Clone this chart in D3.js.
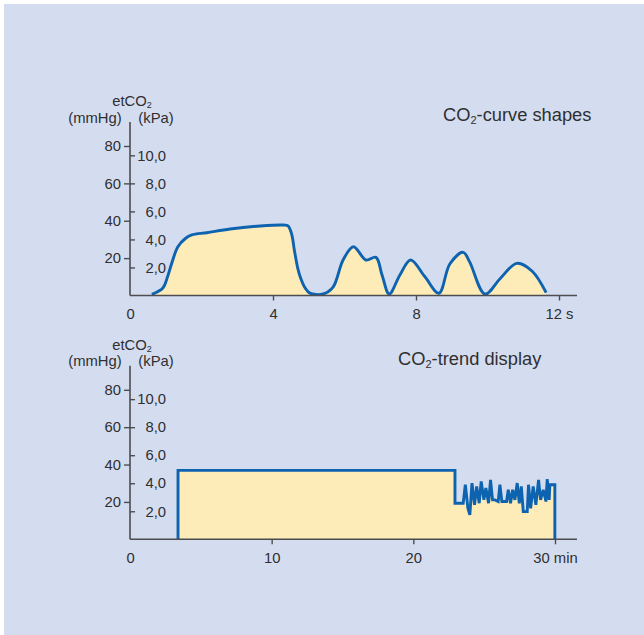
<!DOCTYPE html>
<html><head><meta charset="utf-8">
<script src="https://cdn.jsdelivr.net/npm/d3@7"></script>
<style>
html,body{margin:0;padding:0;background:#fff;}
svg{display:block;font-family:"Liberation Sans",Arial,Helvetica,sans-serif;}
</style></head>
<body>
<svg id="c" width="644" height="635"></svg>
<script>
// ---------- data ----------
const mmHgTicks = [20, 40, 60, 80];
const kPaTicks = [2, 4, 6, 8, 10];
const kPaLabels = ["2,0", "4,0", "6,0", "8,0", "10,0"];
const curveTimeTicks = [0, 4, 8, 12];
const curveTimeLabels = ["0", "4", "8", "12 s"];
const trendTimeTicks = [0, 10, 20, 30];
const trendTimeLabels = ["0", "10", "20", "30 min"];

// CO2 curve shapes: time (s), etCO2 (mmHg)
const curveTime = [0.61, 0.92, 1.05, 1.17, 1.34, 1.55, 1.73, 2.15, 2.8, 3.64, 4.3, 4.42, 4.52, 4.6, 4.7, 4.78, 4.9, 5.03, 5.4, 5.68, 5.96, 6.25, 6.6, 6.88, 7.05, 7.25, 7.55, 7.85, 8.25, 8.64, 8.95, 9.32, 9.5, 9.93, 10.35, 10.82, 11.25, 11.64];
const curveValue = [0.6, 4.0, 10, 17.4, 26.1, 30.5, 32.4, 33.6, 35.6, 37.2, 37.7, 37.3, 33, 24, 14, 9, 4, 1.3, 0.8, 4.5, 19, 26.1, 19, 20.4, 11, 0.8, 11, 19, 10, 1.2, 17, 23.1, 18, 0.8, 9, 17.2, 13, 1.5];

// CO2 trend display: time (min), etCO2 (mmHg)
const trendTime = [3.39, 3.39, 22.94, 22.94, 23.52, 23.67, 23.85, 23.99, 24.14, 24.32, 24.47, 24.65, 24.79, 24.98, 25.12, 25.31, 25.45, 25.59, 25.76, 25.99, 26.11, 26.25, 26.58, 26.70, 26.86, 27.01, 27.17, 27.33, 27.48, 27.62, 27.76, 28.04, 28.13, 28.28, 28.46, 28.65, 28.84, 28.98, 29.17, 29.36, 29.45, 29.59, 29.64, 29.99, 29.99];
const trendValue = [0, 36.9, 36.9, 19.3, 19.3, 29.2, 16.6, 13.1, 30.1, 18.4, 28.3, 19.3, 31.0, 21.1, 27.4, 19.3, 31.8, 21.1, 21.1, 20.2, 29.2, 20.2, 20.2, 26.5, 19.3, 26.5, 21.1, 30.1, 19.3, 28.3, 14.8, 14.8, 29.2, 16.6, 28.3, 18.4, 31.8, 21.1, 26.5, 20.2, 32.2, 21.1, 29.2, 29.2, 0];

// ---------- style ----------
const BG = "#d4ddef", FILL = "#fdebb8", LINE = "#0d63b0", AXIS = "#4d4d4f", TEXT = "#2f2f31";
const FS = "14.8px";

const svg = d3.select("#c");
svg.append("rect").attr("x", 4).attr("y", 4).attr("width", 640).attr("height", 631).attr("fill", BG);

function panel(opt) {
  const g = svg.append("g");
  const y = d3.scaleLinear().domain([0, 80]).range([opt.base, opt.base - 149.5]);
  const yk = d3.scaleLinear().domain([0, 80 / 7.5]).range([opt.base, opt.base - 149.5]);
  const x = d3.scaleLinear().domain(opt.xDomain).range([130, opt.xEnd]);

  // data marks
  const pts = opt.t.map((t, i) => [t, opt.v[i]]);
  const area = d3.area().x(d => x(d[0])).y0(y(0)).y1(d => y(d[1])).curve(opt.curve);
  const line = d3.line().x(d => x(d[0])).y(d => y(d[1])).curve(opt.curve);
  g.append("path").attr("d", area(pts)).attr("fill", FILL);
  g.append("path").attr("d", line(pts)).attr("fill", "none").attr("stroke", LINE)
    .attr("stroke-width", 2.9).attr("stroke-linejoin", opt.join).attr("stroke-linecap", "butt");

  // y axis line
  g.append("line").attr("x1", 130).attr("x2", 130).attr("y1", opt.base).attr("y2", opt.base - 173.5)
    .attr("stroke", AXIS).attr("stroke-width", 1.6);
  // mmHg ticks (left)
  const la = g.append("g").attr("transform", "translate(130,0)")
    .call(d3.axisLeft(y).tickValues(opt.mm).tickSize(6).tickPadding(3));
  la.select(".domain").remove();
  la.selectAll("line").attr("stroke", AXIS).attr("stroke-width", 1.4);
  la.selectAll("text").attr("fill", TEXT).style("font-size", FS).style("font-family", "Liberation Sans, Arial, sans-serif");
  // kPa ticks (right, labels right-aligned)
  const ra = g.append("g").attr("transform", "translate(130,0)")
    .call(d3.axisRight(yk).tickValues(opt.kp).tickSize(5).tickFormat((d, i) => opt.kpl[i]));
  ra.select(".domain").remove();
  ra.selectAll("line").attr("stroke", AXIS).attr("stroke-width", 1.4);
  ra.selectAll("text").attr("fill", TEXT).attr("x", 36).attr("text-anchor", "end")
    .style("font-size", FS).style("font-family", "Liberation Sans, Arial, sans-serif");

  // x axis
  g.append("line").attr("x1", 130).attr("x2", 577).attr("y1", opt.base).attr("y2", opt.base)
    .attr("stroke", AXIS).attr("stroke-width", 1.6);
  const ba = g.append("g").attr("transform", `translate(0,${opt.base})`)
    .call(d3.axisBottom(x).tickValues(opt.xt).tickSize(5).tickPadding(8).tickFormat((d, i) => opt.xl[i]));
  ba.select(".domain").remove();
  ba.selectAll("line").attr("stroke", AXIS).attr("stroke-width", 1.4)
    .attr("display", (d, i) => i === 0 ? "none" : null);
  ba.selectAll("text").attr("fill", TEXT).style("font-size", FS).style("font-family", "Liberation Sans, Arial, sans-serif");

  // unit labels
  const lab = g.append("g").attr("fill", TEXT).style("font-size", FS);
  const e = lab.append("text").attr("x", 132).attr("y", opt.base - 189.5).attr("text-anchor", "middle");
  e.append("tspan").text("etCO");
  e.append("tspan").text("2").attr("dy", 2).style("font-size", "9px");
  lab.append("text").attr("x", 95).attr("y", opt.base - 173).attr("text-anchor", "middle").text("(mmHg)");
  lab.append("text").attr("x", 156).attr("y", opt.base - 173).attr("text-anchor", "middle").text("(kPa)");

  // title
  const t = g.append("text").attr("x", opt.titleX).attr("y", opt.titleY).attr("fill", TEXT).style("font-size", "18.3px");
  t.append("tspan").text("CO");
  t.append("tspan").text("2").attr("dy", 3).style("font-size", "11px");
  t.append("tspan").text(opt.title).attr("dy", -3);
}

panel({
  base: 295.5, xDomain: [0, 12], xEnd: 559, t: curveTime, v: curveValue,
  curve: d3.curveCatmullRom.alpha(0.5), join: "round",
  mm: mmHgTicks, kp: kPaTicks, kpl: kPaLabels, xt: curveTimeTicks, xl: curveTimeLabels,
  title: "-curve shapes", titleX: 443, titleY: 121
});
panel({
  base: 539.3, xDomain: [0, 30], xEnd: 555, t: trendTime, v: trendValue,
  curve: d3.curveLinear, join: "miter",
  mm: mmHgTicks, kp: kPaTicks, kpl: kPaLabels, xt: trendTimeTicks, xl: trendTimeLabels,
  title: "-trend display", titleX: 398, titleY: 365
});
</script>
</body></html>
